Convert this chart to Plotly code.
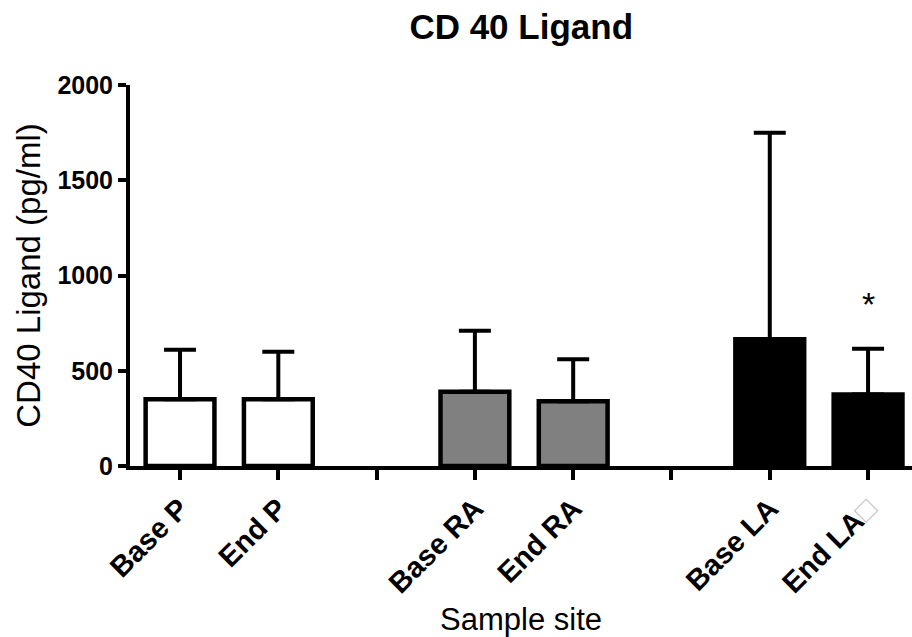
import plotly.graph_objects as go

# Sample sites (empty slots separate the three groups)
sites = ["Base P", "End P", "", "Base RA", "End RA", "", "Base LA", "End LA"]
bar_sites = ["Base P", "End P", "Base RA", "End RA", "Base LA", "End LA"]
means = [350, 350, 390, 340, 665, 375]          # CD40 ligand, pg/ml
upper = [610, 600, 710, 560, 1750, 615]         # mean + SD
fills = ["white", "white", "#808080", "#808080", "black", "black"]
y_ticks = [0, 500, 1000, 1500, 2000]

pos = [sites.index(s) for s in bar_sites]
err_plus = [u - m for u, m in zip(upper, means)]

tick_text = [s for s in sites]
tick_text[7] = "End LA<span style='color:#c4c4c4;font-weight:normal'>\u25a1</span>"

FONT = "Liberation Sans, Arial, sans-serif"

fig = go.Figure()
fig.add_trace(go.Bar(
    x=pos, y=means, width=0.7,
    marker=dict(color=fills, line=dict(color="black", width=4.5)),
    error_y=dict(type="data", symmetric=False, array=err_plus,
                 arrayminus=[0] * len(means), color="black",
                 thickness=4, width=16),
    showlegend=False,
))

# significance marker above End LA
fig.add_annotation(x=7, y=850, text="*", showarrow=False,
                   font=dict(family=FONT, size=34, color="black"),
                   xanchor="center", yanchor="middle")

fig.update_layout(
    width=912, height=637,
    margin=dict(l=130, r=0, t=85, b=171),
    paper_bgcolor="white", plot_bgcolor="white",
    title=dict(text="<b>CD 40 Ligand</b>", x=0.5715, xanchor="center",
               y=1 - 27 / 637, yanchor="middle", yref="container",
               font=dict(family=FONT, size=35, color="black")),
    xaxis=dict(
        range=[-0.509, 7.447], tickvals=list(range(len(sites))),
        ticktext=tick_text, tickangle=-45, automargin=False,
        showline=True, linecolor="black", linewidth=4,
        ticks="outside", ticklen=10, tickwidth=3.5, tickcolor="black",
        showgrid=False, zeroline=False,
        tickfont=dict(family=FONT, size=29, color="black", weight="bold"),
        title=dict(text="Sample site", standoff=20,
                   font=dict(family=FONT, size=31, color="black")),
    ),
    yaxis=dict(
        range=[0, 2000], tickvals=y_ticks, automargin=False,
        showline=True, linecolor="black", linewidth=4,
        ticks="outside", ticklen=8, tickwidth=3.5, tickcolor="black",
        showgrid=False, zeroline=False,
        tickfont=dict(family=FONT, size=25, color="black", weight="bold"),
        title=dict(text="CD40 Ligand (pg/ml)", standoff=8,
                   font=dict(family=FONT, size=33, color="black")),
    ),
)

fig.write_html("out.html")
